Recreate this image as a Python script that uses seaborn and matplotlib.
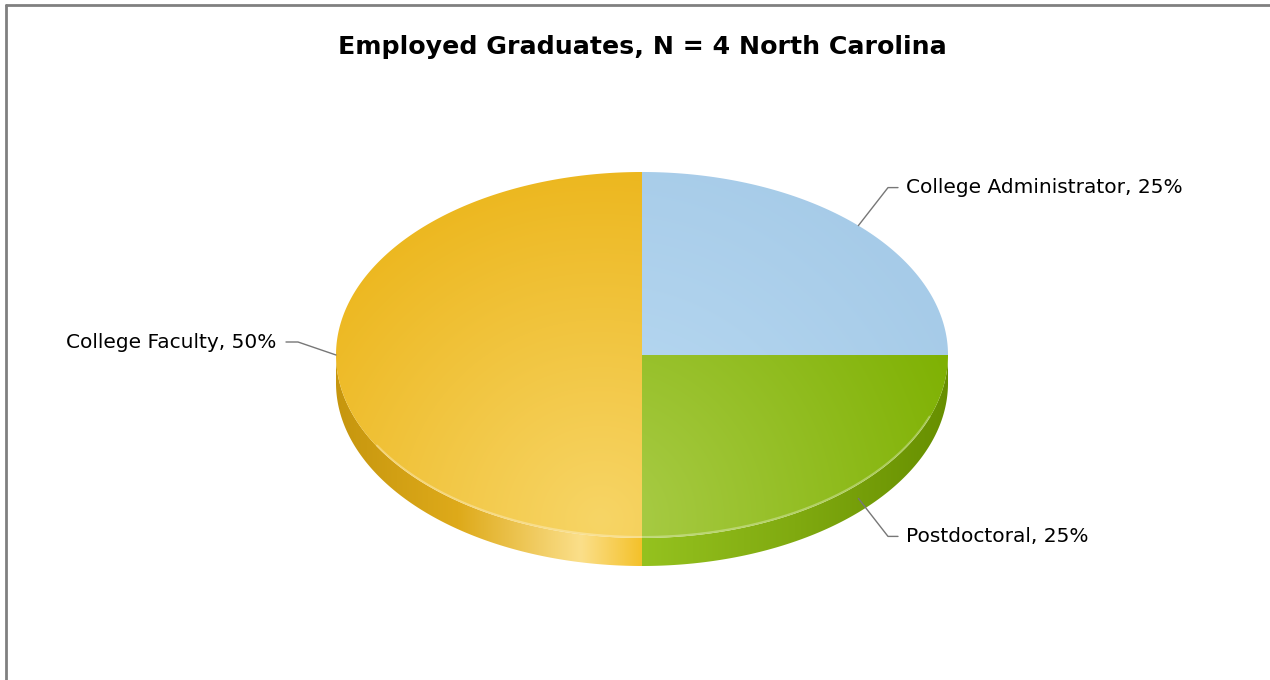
import numpy as np
import matplotlib
matplotlib.use("Agg")
import matplotlib.pyplot as plt
import seaborn as sns
from matplotlib.patches import Polygon
from matplotlib.lines import Line2D
from matplotlib.colors import to_rgb

# ---- data ----
title = "Employed Graduates, N = 4 North Carolina"
categories = ["College Administrator", "Postdoctoral", "College Faculty"]
values = [1, 1, 2]
face_light = ["#bcdcf4", "#abcd4a", "#f7d566"]
face_dark = ["#a6cbe8", "#7db000", "#ebb315"]
side_stops = [
    [(0.0, "#9cc8e6"), (1.0, "#8ab8dc")],
    [(0.0, "#95c21f"), (0.5, "#80aa10"), (1.0, "#678f00")],
    [(0.0, "#c6960e"), (0.4, "#deaa1a"), (0.80, "#fbdf8a"), (1.0, "#f4c12a")],
]

sns.set_theme(style="white")
plt.rcParams["font.family"] = ["DejaVu Sans"]

W, H = 1270, 680
fig = plt.figure(figsize=(W / 100, H / 100), dpi=100)
ax = fig.add_axes([0, 0, 1, 1])
ax.set_xlim(0, W)
ax.set_ylim(H, 0)
ax.axis("off")

cx, cy, rx, ry, depth = 642, 355, 306, 183, 28

def pt(t, dy=0.0):
    t = np.radians(t)
    return cx + rx * np.cos(t), cy - ry * np.sin(t) + dy

yy, xx = np.mgrid[0:H, 0:W] + 0.5
fx, fy = 600, 520
dist = np.clip(np.hypot(xx - fx, (yy - fy) * 1.0) / 400.0, 0, 1)

total = sum(values)
start = 90.0
spans = []
for v in values:
    end = start - 360.0 * v / total
    spans.append((start, end))
    start = end

def grad_img(light, dark):
    l = np.array(to_rgb(light)); d = np.array(to_rgb(dark))
    img = l[None, None, :] * (1 - dist[..., None]) + d[None, None, :] * dist[..., None]
    return img

def side_img(stops, x0, x1):
    pos = [s[0] for s in stops]
    cols = np.array([to_rgb(s[1]) for s in stops])
    u = np.clip((xx[0] - x0) / max(x1 - x0, 1), 0, 1)
    row = np.stack([np.interp(u, pos, cols[:, k]) for k in range(3)], axis=-1)
    return np.repeat(row[None, :, :], H, axis=0)

# sides first
for i, (a0, a1) in enumerate(spans):
    for k in range(-2, 2):
        lo, hi = -180 + 360 * k, 0 + 360 * k
        s0, s1 = max(a1, lo), min(a0, hi)
        if s1 - s0 <= 0:
            continue
        ts = np.linspace(s1, s0, 200)
        top = np.array([pt(t) for t in ts])
        bot = np.array([pt(t, depth) for t in ts[::-1]])
        poly = np.vstack([top, bot])
        patch = Polygon(poly, closed=True, facecolor="none", edgecolor="none")
        ax.add_patch(patch)
        img = side_img(side_stops[i], poly[:, 0].min(), poly[:, 0].max())
        im = ax.imshow(img, extent=(0, W, H, 0), interpolation="bilinear", zorder=1)
        im.set_clip_path(patch)

# faces
for i, (a0, a1) in enumerate(spans):
    ts = np.linspace(a0, a1, 300)
    arc = np.array([pt(t) for t in ts])
    poly = np.vstack([[cx, cy], arc])
    patch = Polygon(poly, closed=True, facecolor="none", edgecolor="none")
    ax.add_patch(patch)
    im = ax.imshow(grad_img(face_light[i], face_dark[i]), extent=(0, W, H, 0),
                   interpolation="bilinear", zorder=2)
    im.set_clip_path(patch)

# rim highlight on front edge
ts = np.linspace(-150, -20, 200)
rim = np.array([pt(t, -1) for t in ts])
ax.plot(rim[:, 0], rim[:, 1], color="white", alpha=0.3, lw=1.5, zorder=3)

# labels with leader lines
for i, (a0, a1) in enumerate(spans):
    mid = (a0 + a1) / 2
    s = np.sin(np.radians(mid)); c = np.cos(np.radians(mid))
    if abs(s) < 1e-9:
        s = 0.0
    x0, y0 = pt(mid, depth / 2 if s < 0 else 0)
    pct = f"{categories[i]}, {round(100 * values[i] / total)}%"
    if c > 0.3:
        elbow = (888, y0 + (-38 if s > 0 else 38))
        xs = [x0, elbow[0], elbow[0] + 10]; ys = [y0, elbow[1], elbow[1]]
        tx, ha = elbow[0] + 18, "left"
    elif c < -0.3:
        elbow = (x0 - 38, y0 - 13)
        xs = [x0, elbow[0], elbow[0] - 12]; ys = [y0, elbow[1], elbow[1]]
        tx, ha = elbow[0] - 22, "right"
    else:
        continue
    ax.plot(xs, ys, color="#777777", lw=1, zorder=4)
    ax.text(tx, ys[-1], pct, ha=ha, va="center", fontsize=14.5, color="black")

ax.text(642, 47, title, ha="center", va="center", fontsize=18.2,
        fontweight="bold", color="black")

# outer border
fig.add_artist(Line2D([6 / W, 6 / W], [0, 1 - 4.5 / H], color="#808080", lw=2,
                      transform=fig.transFigure))
fig.add_artist(Line2D([6 / W, 1], [1 - 4.5 / H, 1 - 4.5 / H], color="#808080", lw=2,
                      transform=fig.transFigure))

fig.savefig("out.png", dpi=100)
